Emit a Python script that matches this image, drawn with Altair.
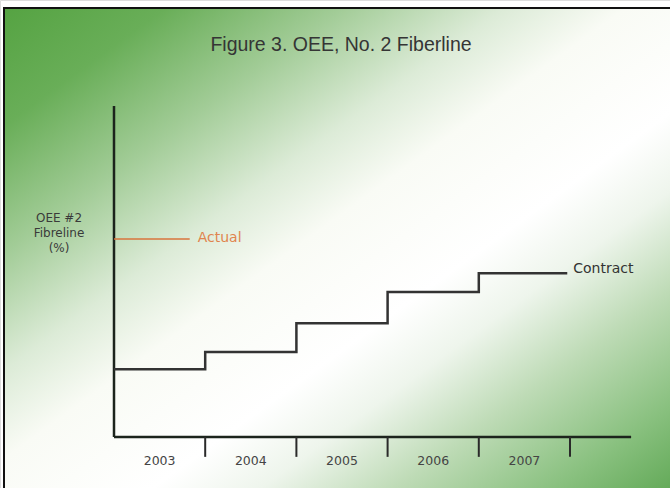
import altair as alt
import pandas as pd

# Contract OEE level for each year (relative %, step changes at each year start)
years = [2003, 2004, 2005, 2006, 2007]
contract_levels = [20.5, 25.7, 34.4, 43.8, 49.5]
contract_end = 2007.97

# Actual OEE reference line
actual_level = 59.8
actual_end = 2003.83

# Axis pieces
year_labels = ["2003", "2004", "2005", "2006", "2007"]
tick_years = [2004, 2005, 2006, 2007, 2008]
x_axis_end = 2008.67
y_axis_top = 100
tick_depth = -6.0
label_level = -7.3

W, H = 670, 488
TITLE_FONT = "Liberation Sans"
FONT = "DejaVu Sans"

xs = alt.Scale(domain=[2003, 2008], range=[114, 570], nice=False, zero=False)
ys = alt.Scale(domain=[0, 100], range=[437, 106], nice=False, zero=False)

contract_df = pd.DataFrame({
    "year": years + [contract_end],
    "oee": contract_levels + [contract_levels[-1]],
})
actual_df = pd.DataFrame({"year": [2003, actual_end], "oee": [actual_level] * 2})
ticks_df = pd.DataFrame({"year": tick_years, "y0": [0] * 5, "y1": [tick_depth] * 5})
labels_df = pd.DataFrame({"mid": [y + 0.5 for y in years], "lab": year_labels,
                          "ly": [label_level] * 5})
yaxis_df = pd.DataFrame({"x": [2003], "y0": [0], "y1": [y_axis_top]})
xaxis_df = pd.DataFrame({"x0": [2003], "x1": [x_axis_end], "y": [0]})

# Framed gradient backdrop
backdrop = alt.Chart(pd.DataFrame({"k": [0]})).mark_rect(
    color=alt.Gradient(
        gradient="linear", x1=0, y1=0, x2=1, y2=1,
        stops=[
            alt.GradientStop(color="#55a342", offset=0.0),
            alt.GradientStop(color="#69ae58", offset=0.12),
            alt.GradientStop(color="#a2cc97", offset=0.25),
            alt.GradientStop(color="#dcebd7", offset=0.37),
            alt.GradientStop(color="#f9fbf5", offset=0.46),
            alt.GradientStop(color="#ffffff", offset=0.6),
            alt.GradientStop(color="#eef5ec", offset=0.68),
            alt.GradientStop(color="#bedbb6", offset=0.78),
            alt.GradientStop(color="#88c07e", offset=0.9),
            alt.GradientStop(color="#5da652", offset=1.0),
        ],
    ),
    stroke="#111111", strokeWidth=2,
).encode(x=alt.value(4), x2=alt.value(W + 10), y=alt.value(8), y2=alt.value(H + 10))

title = alt.Chart(pd.DataFrame({"t": ["Figure 3. OEE, No. 2 Fiberline"]})).mark_text(
    font=TITLE_FONT, fontSize=19.5, color="#353535", align="center", baseline="middle"
).encode(text="t:N", x=alt.value(341), y=alt.value(45))

ytitle = alt.Chart(pd.DataFrame({"t": ["OEE #2\nFibreline\n(%)"]})).mark_text(
    font=FONT, fontSize=12, color="#3a3a3a", align="center", baseline="middle",
    lineBreak="\n", lineHeight=15,
).encode(text="t:N", x=alt.value(59), y=alt.value(218))

y_axis = alt.Chart(yaxis_df).mark_rule(color="#1c241c", strokeWidth=2.5).encode(
    x=alt.X("x:Q", scale=xs, axis=None),
    y=alt.Y("y0:Q", scale=ys, axis=None),
    y2="y1:Q",
)
x_axis = alt.Chart(xaxis_df).mark_rule(color="#1c241c", strokeWidth=2.5).encode(
    x=alt.X("x0:Q", scale=xs, axis=None),
    x2="x1:Q",
    y=alt.Y("y:Q", scale=ys, axis=None),
)
ticks = alt.Chart(ticks_df).mark_rule(color="#2a2a2a", strokeWidth=2).encode(
    x=alt.X("year:Q", scale=xs, axis=None),
    y=alt.Y("y0:Q", scale=ys, axis=None),
    y2="y1:Q",
)
year_text = alt.Chart(labels_df).mark_text(
    font=FONT, fontSize=12.5, color="#444444", align="center", baseline="middle"
).encode(
    x=alt.X("mid:Q", scale=xs, axis=None),
    y=alt.Y("ly:Q", scale=ys, axis=None),
    text="lab:N",
)

contract = alt.Chart(contract_df).mark_line(
    interpolate="step-after", color="#333333", strokeWidth=2.5
).encode(
    x=alt.X("year:Q", scale=xs, axis=None),
    y=alt.Y("oee:Q", scale=ys, axis=None),
)
contract_lab = alt.Chart(contract_df.tail(1).assign(lab="Contract")).mark_text(
    font=FONT, fontSize=14, color="#333333", align="left", baseline="middle", dx=6, dy=-4
).encode(
    x=alt.X("year:Q", scale=xs, axis=None),
    y=alt.Y("oee:Q", scale=ys, axis=None),
    text="lab:N",
)

actual = alt.Chart(actual_df).mark_line(color="#d9743c", strokeWidth=1.5).encode(
    x=alt.X("year:Q", scale=xs, axis=None),
    y=alt.Y("oee:Q", scale=ys, axis=None),
)
actual_lab = alt.Chart(actual_df.tail(1).assign(lab="Actual")).mark_text(
    font=FONT, fontSize=14, color="#e0844e", align="left", baseline="middle", dx=8, dy=-1
).encode(
    x=alt.X("year:Q", scale=xs, axis=None),
    y=alt.Y("oee:Q", scale=ys, axis=None),
    text="lab:N",
)

chart = alt.layer(
    backdrop, title, ytitle, y_axis, x_axis, ticks, year_text,
    contract, contract_lab, actual, actual_lab,
).properties(
    width=W, height=H, padding=0, autosize=alt.AutoSizeParams(type="none"),
).configure_view(stroke=None).configure(background="#ffffff")

chart.save("out.html", embed_options={"renderer": "svg", "actions": False})
